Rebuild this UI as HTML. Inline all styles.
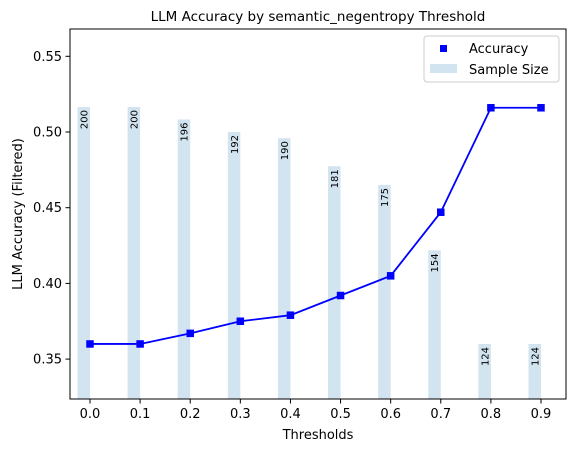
<!DOCTYPE html>
<html><head><meta charset="utf-8"><style>
body{margin:0;background:#fff}
svg text{font-family:"DejaVu Sans","Liberation Sans",sans-serif;fill:#000}
</style></head><body>
<svg width="575" height="452" viewBox="0 0 575 452">
<g id="bars"></g>
<g id="line"></g>
<rect x="70" y="29" width="496" height="370" fill="none" stroke="#000" stroke-width="1"/>
<g id="xt"></g>
<g id="yt"></g>
<text x="318" y="21" font-size="13.5" text-anchor="middle">LLM Accuracy by semantic_negentropy Threshold</text>
<text x="318" y="439" font-size="13" text-anchor="middle">Thresholds</text>
<text transform="translate(22,214) rotate(-90)" font-size="13" text-anchor="middle">LLM Accuracy (Filtered)</text>
<g>
<rect x="424" y="36" width="135" height="46" rx="3" fill="#fff" fill-opacity="0.8" stroke="#ccc"/>
<rect x="440" y="45" width="7" height="7" fill="#0000ff"/>
<text x="469" y="53" font-size="13">Accuracy</text>
<rect x="430" y="64" width="27" height="9" fill="#1f77b4" fill-opacity="0.2"/>
<text x="469" y="74" font-size="13">Sample Size</text>
</g>
</svg>
<script>
const thresholds=[0.0,0.1,0.2,0.3,0.4,0.5,0.6,0.7,0.8,0.9];
const accuracy=[0.36,0.36,0.367,0.375,0.379,0.392,0.405,0.447,0.516,0.516];
const sampleSizes=[200,200,196,192,190,181,175,154,124,124];
const xTickLabels=["0.0","0.1","0.2","0.3","0.4","0.5","0.6","0.7","0.8","0.9"];
const yTicks=[0.35,0.40,0.45,0.50,0.55];
const NS="http://www.w3.org/2000/svg";
const xs=v=>90+v*501.1;
const ys=v=>132+(0.5-v)*1514;
const yb=n=>107+(200-n)*3.118;
function mk(t,a,p){const e=document.createElementNS(NS,t);for(const k in a)e.setAttribute(k,a[k]);p.appendChild(e);return e;}
const bars=document.getElementById('bars');
sampleSizes.forEach((n,i)=>{
  const x=xs(thresholds[i]),top=yb(n);
  const r=mk('rect',{x:x-12.5,y:top,width:12.5,height:399-top,fill:'#1f77b4','fill-opacity':0.2},bars);
  
  
  const t=mk('text',{transform:`translate(${x-6.25+3.7},${top+3}) rotate(-90)`,'font-size':10,'text-anchor':'end'},bars);
  t.textContent=n;
  
  
});
const line=document.getElementById('line');
const pl=mk('polyline',{points:accuracy.map((a,i)=>xs(thresholds[i])+','+ys(a)).join(' '),fill:'none',stroke:'#0000ff','stroke-width':1.8},line);


accuracy.forEach((a,i)=>{
  const m=mk('rect',{x:xs(thresholds[i])-3.75,y:ys(a)-3.75,width:7.5,height:7.5,fill:'#0000ff'},line);
  
  
});
const xt=document.getElementById('xt');
thresholds.forEach((v,i)=>{
  const x=xs(v);
  const l=mk('line',{x1:x,x2:x,y1:399,y2:403.5,stroke:'#000'},xt);
  
  
  const t=mk('text',{x:x,y:418,'font-size':13,'text-anchor':'middle'},xt);
  t.textContent=xTickLabels[i];
  
  
});
const yt=document.getElementById('yt');
yTicks.forEach(v=>{
  const y=ys(v);
  const l=mk('line',{x1:65.5,x2:70,y1:y,y2:y,stroke:'#000'},yt);
  
  
  const t=mk('text',{x:62,y:y+4.5,'font-size':13,'text-anchor':'end'},yt);
  t.textContent=v.toFixed(2);
  
  
});
</script>
</body></html>
